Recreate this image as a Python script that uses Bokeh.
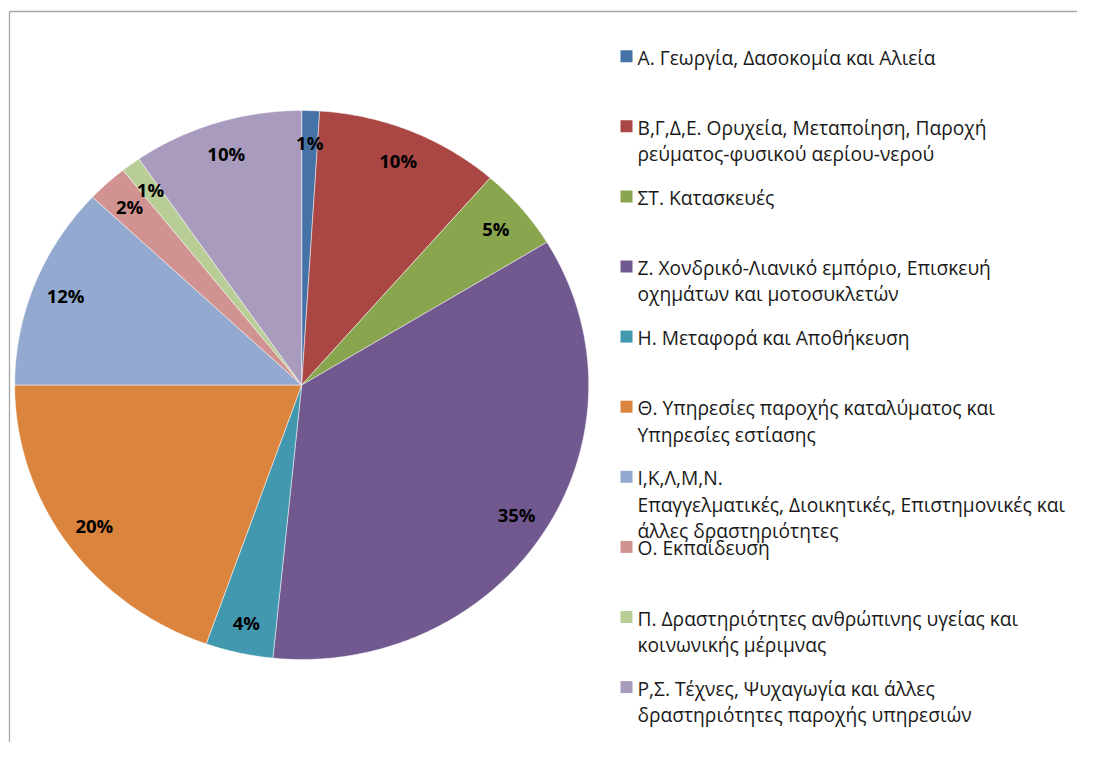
import numpy as np
from bokeh.plotting import figure
from bokeh.models import Range1d, ColumnDataSource
from bokeh.core.properties import value
from bokeh.embed import file_html
from bokeh.resources import INLINE

# ---------------- data ----------------
categories = [
    "Α. Γεωργία, Δασοκομία και Αλιεία",
    "Β,Γ,Δ,Ε. Ορυχεία, Μεταποίηση, Παροχή ρεύματος-φυσικού αερίου-νερού",
    "ΣΤ. Κατασκευές",
    "Ζ. Χονδρικό-Λιανικό εμπόριο, Επισκευή οχημάτων και μοτοσυκλετών",
    "Η. Μεταφορά και Αποθήκευση",
    "Θ. Υπηρεσίες παροχής καταλύματος και Υπηρεσίες εστίασης",
    "Ι,Κ,Λ,Μ,Ν. Επαγγελματικές, Διοικητικές, Επιστημονικές και άλλες δραστηριότητες",
    "Ο. Εκπαίδευση",
    "Π. Δραστηριότητες ανθρώπινης υγείας και κοινωνικής μέριμνας",
    "Ρ,Σ. Τέχνες, Ψυχαγωγία και άλλες δραστηριότητες παροχής υπηρεσιών",
]
legend_lines = [
    ["Α. Γεωργία, Δασοκομία και Αλιεία"],
    ["Β,Γ,Δ,Ε. Ορυχεία, Μεταποίηση, Παροχή", "ρεύματος-φυσικού αερίου-νερού"],
    ["ΣΤ. Κατασκευές"],
    ["Ζ. Χονδρικό-Λιανικό  εμπόριο, Επισκευή", "οχημάτων και μοτοσυκλετών"],
    ["Η. Μεταφορά και Αποθήκευση"],
    ["Θ. Υπηρεσίες παροχής καταλύματος και", "Υπηρεσίες εστίασης"],
    ["Ι,Κ,Λ,Μ,Ν.", "Επαγγελματικές, Διοικητικές, Επιστημονικές και", "άλλες δραστηριότητες"],
    ["Ο. Εκπαίδευση"],
    ["Π. Δραστηριότητες ανθρώπινης υγείας και", "κοινωνικής μέριμνας"],
    ["Ρ,Σ. Τέχνες, Ψυχαγωγία και άλλες", "δραστηριότητες παροχής υπηρεσιών"],
]
shares = [1.0, 10.4, 4.9, 35.3, 3.8, 19.6, 12.0, 2.3, 1.1, 9.6]
colors = ["#4573A7", "#AA4644", "#89A54E", "#71588F", "#4198AF",
          "#DB843D", "#93A9CF", "#D19392", "#B9CD96", "#A99BBD"]

# ---------------- layout ----------------
W, H = 1077, 742
CX, CY = 301.2, 384.5
RX, RY = 287.0, 274.5
LABEL_R = 0.885
FONT = "Open Sans"

p = figure(width=W, height=H,
           x_range=Range1d(0, W), y_range=Range1d(H, 0),
           output_backend="svg", toolbar_location=None, min_border=0,
           x_axis_location=None, y_axis_location=None)
p.grid.visible = False
p.outline_line_color = None
p.background_fill_color = "white"
p.border_fill_color = "white"

# frame lines (chart area border, cropped)
p.segment(x0=[9, 9], y0=[11, 11], x1=[W, 9], y1=[11, H],
          line_color="#A6A6A6", line_width=1.3)

# ---------------- pie slices ----------------
total = float(sum(shares))
fracs = np.array(shares) / total
ends = np.cumsum(fracs)
starts = ends - fracs

xs, ys = [], []
for s, e in zip(starts, ends):
    n = max(3, int((e - s) * 720) + 2)
    t = np.linspace(s, e, n) * 2 * np.pi
    xs.append(np.concatenate([[CX], CX + RX * np.sin(t)]).tolist())
    ys.append(np.concatenate([[CY], CY - RY * np.cos(t)]).tolist())

p.patches(xs=xs, ys=ys, fill_color=colors, line_color="white",
          line_width=0.7, line_alpha=0.7)

# percentage labels
mid = (starts + ends) / 2 * 2 * np.pi
lab_src = ColumnDataSource(dict(
    x=CX + RX * LABEL_R * np.sin(mid),
    y=CY - RY * LABEL_R * np.cos(mid),
    t=[f"{round(f * 100)}%" for f in fracs],
))
p.text(x="x", y="y", text="t", source=lab_src, text_align="center",
       text_baseline="middle", text_font=value(FONT), text_font_style="bold",
       text_font_size="18.5px", text_color="black")

# ---------------- legend ----------------
SQ_X, TXT_X = 626.0, 637.0
Y0, DY, LH = 55.7, 70.1, 26.3
sq_y = [Y0 + i * DY for i in range(len(categories))]
p.rect(x=[SQ_X] * len(sq_y), y=sq_y, width=12, height=12,
       fill_color=colors, line_color=None)

tx, ty, tt = [], [], []
for i, lines in enumerate(legend_lines):
    for j, line in enumerate(lines):
        tx.append(TXT_X)
        ty.append(sq_y[i] + 1 + j * LH)
        tt.append(line)
p.text(x=tx, y=ty, text=tt, text_align="left", text_baseline="middle",
       text_font=value(FONT), text_font_size="19.2px", text_color="#1a1a1a")

open("out.html", "w").write(file_html(p, INLINE))
